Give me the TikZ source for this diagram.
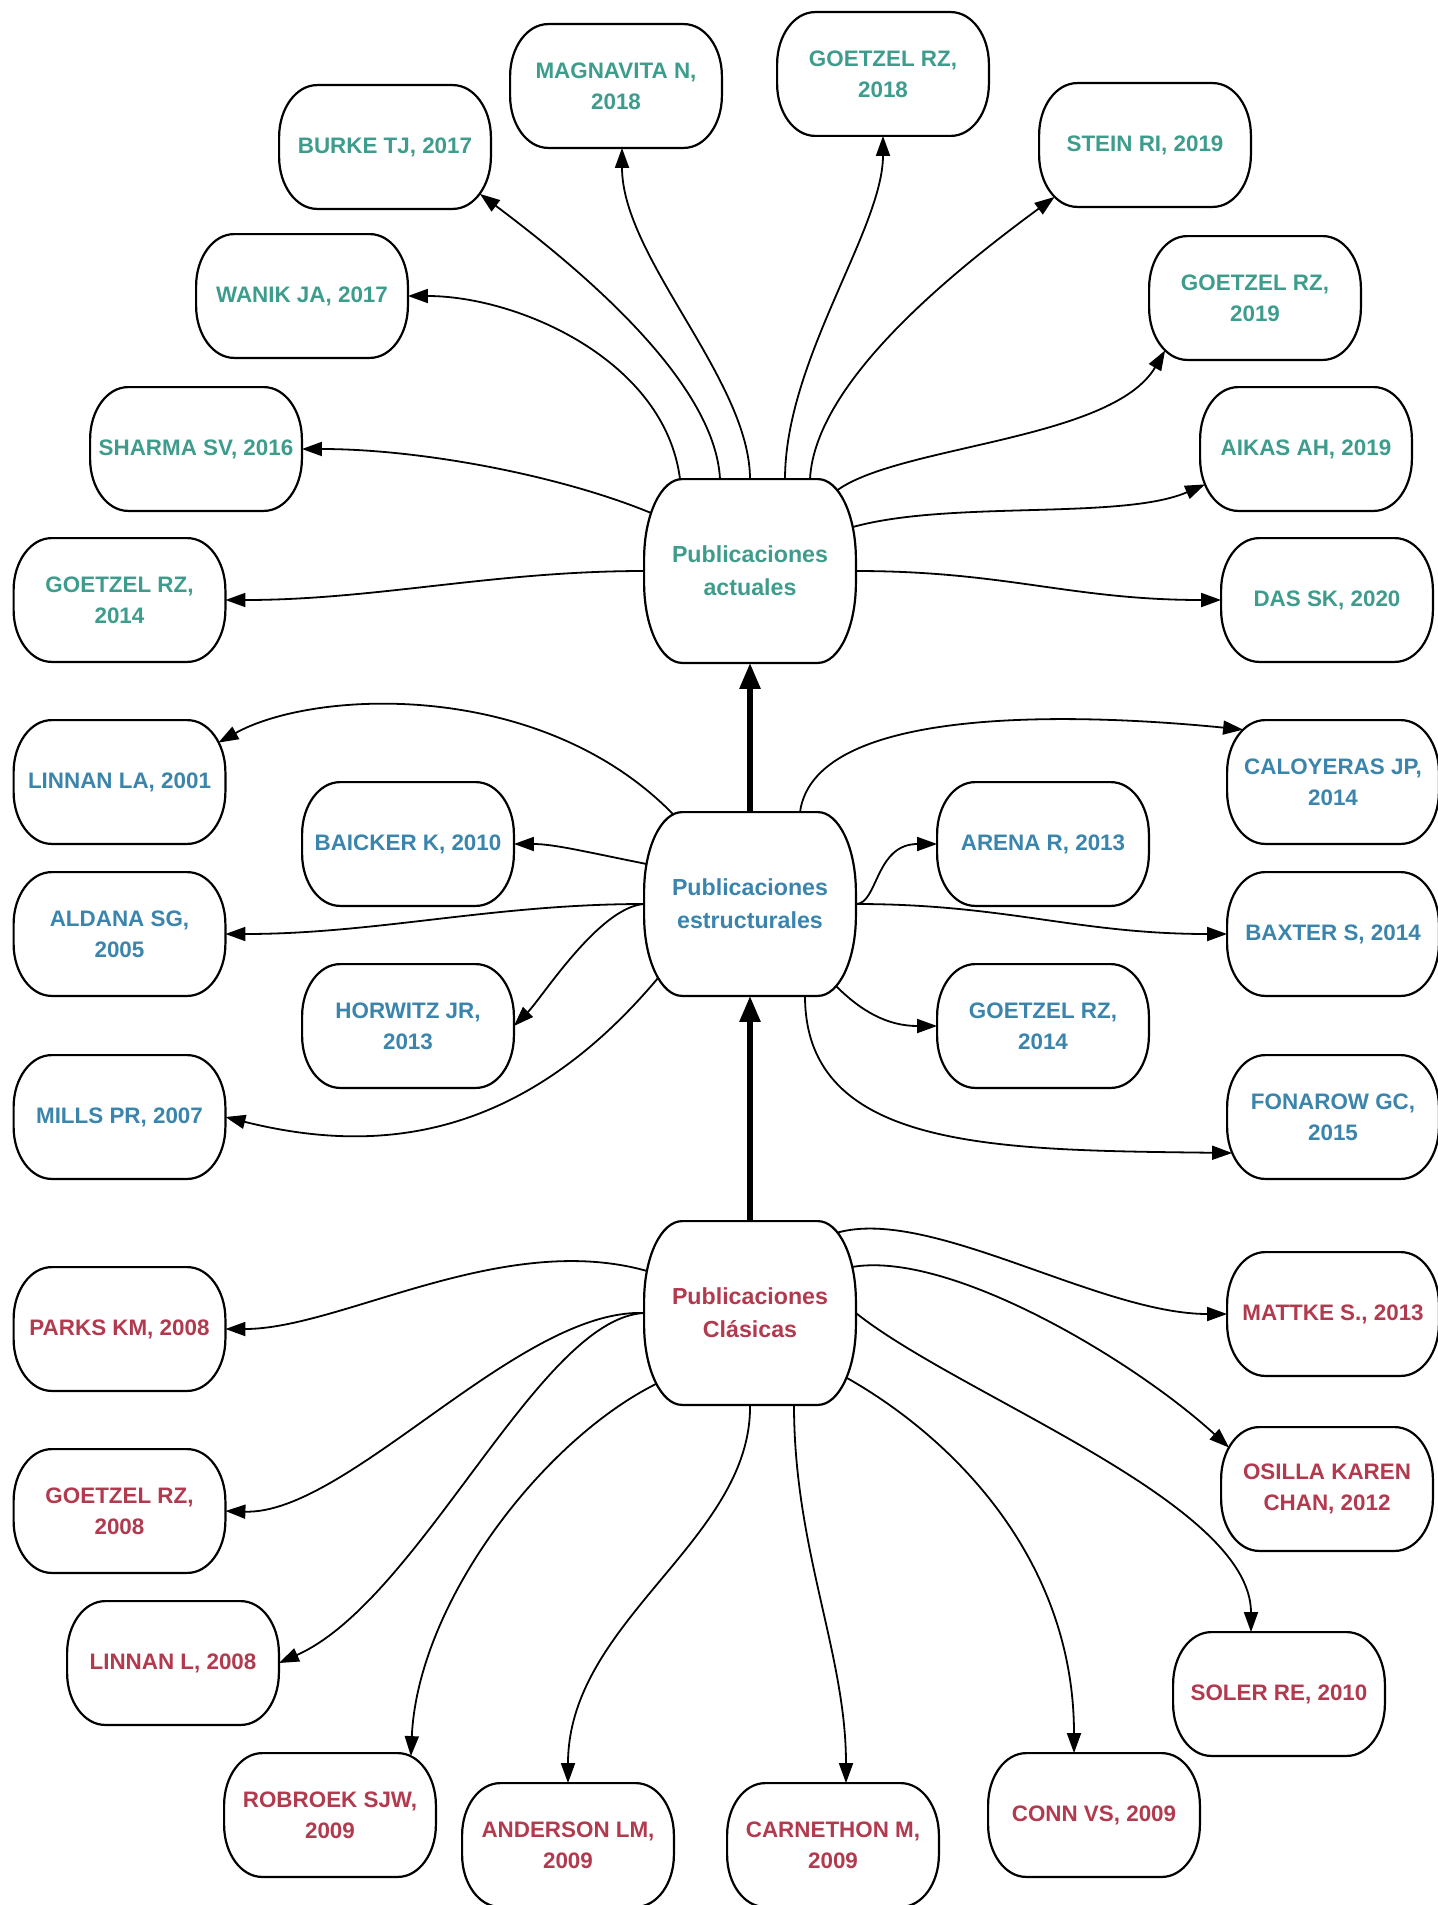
\documentclass[tikz,border=0pt]{standalone}
\usepackage{fontspec}
\setmainfont{Liberation Sans}
\usetikzlibrary{arrows.meta,calc}
\definecolor{actualtxt}{HTML}{3E9C8C}
\definecolor{estructtxt}{HTML}{3B84AC}
\definecolor{clasicatxt}{HTML}{B23A4E}

\begin{document}
\begin{tikzpicture}[
  x=0.5pt,
  y=0.5pt,
  line join=round,
  pub/.style={minimum width=105.5pt,minimum height=61.5pt,inner sep=2pt,align=center,
    font=\fontsize{11.2}{15.5}\selectfont\bfseries},
  hub/.style={pub,minimum height=91.5pt,font=\fontsize{11.6}{16.5}\selectfont\bfseries},
  actual/.style={pub,text=actualtxt},
  estruct/.style={pub,text=estructtxt},
  clasica/.style={pub,text=clasicatxt},
  frame/.style={draw=black,line width=1.1pt},
  link/.style={draw=black,line width=0.9pt,-{Triangle[length=10pt,width=7pt]}},
  stage/.style={draw=black,line width=2.8pt,-{Triangle[length=13pt,width=10pt]}}
]
  \fill[white] (0,0) rectangle (1438,-1905);
  \useasboundingbox (0,0) rectangle (1438,-1905);

  % The three stages, bottom to top.
  \node[hub,text=actualtxt]   (act)  at (750,-571)  {Publicaciones\\actuales};
  \node[hub,text=estructtxt]  (estr) at (750,-904)  {Publicaciones\\estructurales};
  \node[hub,text=clasicatxt]  (clas) at (750,-1313) {Publicaciones\\Clásicas};

  % Current publications.
  \node[actual] (burke)     at (385,-147)   {BURKE TJ, 2017};
  \node[actual] (magnavita) at (616,-86)    {MAGNAVITA N,\\2018};
  \node[actual] (wanik)     at (302,-296)   {WANIK JA, 2017};
  \node[actual] (sharma)    at (196,-449)   {SHARMA SV, 2016};
  \node[actual] (goetzelA)  at (119.5,-600) {GOETZEL RZ,\\2014};
  \node[actual] (goetzelB)  at (883,-74)    {GOETZEL RZ,\\2018};
  \node[actual] (stein)     at (1145,-145)  {STEIN RI, 2019};
  \node[actual] (goetzelC)  at (1255,-298)  {GOETZEL RZ,\\2019};
  \node[actual] (aikas)     at (1306,-449)  {AIKAS AH, 2019};
  \node[actual] (das)       at (1327,-600)  {DAS SK, 2020};

  % Structural publications.
  \node[estruct] (linnanla)  at (119.5,-782)  {LINNAN LA, 2001};
  \node[estruct] (baicker)   at (408,-844)    {BAICKER K, 2010};
  \node[estruct] (aldana)    at (119.5,-934)  {ALDANA SG,\\2005};
  \node[estruct] (horwitz)   at (408,-1026)   {HORWITZ JR,\\2013};
  \node[estruct] (mills)     at (119.5,-1117) {MILLS PR, 2007};
  \node[estruct] (caloyeras) at (1333,-782)   {CALOYERAS JP,\\2014};
  \node[estruct] (arena)     at (1043,-844)   {ARENA R, 2013};
  \node[estruct] (baxter)    at (1333,-934)   {BAXTER S, 2014};
  \node[estruct] (goetzelE)  at (1043,-1026)  {GOETZEL RZ,\\2014};
  \node[estruct] (fonarow)   at (1333,-1117)  {FONAROW GC,\\2015};

  % Classic publications.
  \node[clasica] (parks)     at (119.5,-1329) {PARKS KM, 2008};
  \node[clasica] (goetzelF)  at (119.5,-1511) {GOETZEL RZ,\\2008};
  \node[clasica] (linnanl)   at (173,-1663)   {LINNAN L, 2008};
  \node[clasica] (robroek)   at (330,-1815)   {ROBROEK SJW,\\2009};
  \node[clasica] (anderson)  at (568,-1845)   {ANDERSON LM,\\2009};
  \node[clasica] (carnethon) at (833,-1845)   {CARNETHON M,\\2009};
  \node[clasica] (conn)      at (1094,-1815)  {CONN VS, 2009};
  \node[clasica] (soler)     at (1279,-1694)  {SOLER RE, 2010};
  \node[clasica] (osilla)    at (1327,-1489)  {OSILLA KAREN\\CHAN, 2012};
  \node[clasica] (mattke)    at (1333,-1314)  {MATTKE S., 2013};

  % Box outlines with elliptical corners (hubs are taller).
  \foreach \n/\ry in {act/80,estr/80,clas/80,
      burke/52,magnavita/52,wanik/52,sharma/52,goetzelA/52,goetzelB/52,stein/52,goetzelC/52,aikas/52,das/52,
      linnanla/52,baicker/52,aldana/52,horwitz/52,mills/52,caloyeras/52,arena/52,baxter/52,goetzelE/52,fonarow/52,
      parks/52,goetzelF/52,linnanl/52,robroek/52,anderson/52,carnethon/52,conn/52,soler/52,osilla/52,mattke/52} {
    \draw[frame] ($(\n.north west)+(38,0)$) -- ($(\n.north east)+(-38,0)$)
      arc[start angle=90,end angle=0,x radius=38,y radius=\ry]
      -- ($(\n.south east)+(0,\ry)$)
      arc[start angle=0,end angle=-90,x radius=38,y radius=\ry]
      -- ($(\n.south west)+(38,0)$)
      arc[start angle=270,end angle=180,x radius=38,y radius=\ry]
      -- ($(\n.north west)+(0,-\ry)$)
      arc[start angle=180,end angle=90,x radius=38,y radius=\ry]
      -- cycle;
  }

  % Stage arrows.
  \draw[stage] (estr.north) -- (act.south);
  \draw[stage] (clas.north) -- (estr.south);

  % Fan-out of the current stage.
  \draw[link] (act.west) .. controls +(-150,0) and +(150,0) .. (goetzelA.east);
  \draw[link] ($(act.west)+(7,58)$) .. controls +(-92,38) and +(118,0) .. (sharma.east);
  \draw[link] ($(act.north)+(-70,0)$) .. controls +(-15,119) and +(110,0) .. (wanik.east);
  \draw[link] ($(act.north)+(-30,0)$) .. controls +(-5,99) and +(96,-72) .. ($(burke.south east)+(-11,15)$);
  \draw[link] (act.north) .. controls +(0,99) and +(0,-110) .. ($(magnavita.south)+(6,0)$);
  \draw[link] ($(act.north)+(35,0)$) .. controls +(0,119) and +(0,-93) .. (goetzelB.south);
  \draw[link] ($(act.north)+(60,0)$) .. controls +(5,99) and +(-95,-70) .. ($(stein.south west)+(15.5,10)$);
  \draw[link] ($(act.north east)+(-18.5,-11)$) .. controls +(63,45) and +(-53,-90) .. ($(goetzelC.south west)+(16,9.5)$);
  \draw[link] ($(act.east)+(-3,44)$) .. controls +(97,27) and +(-83,-36) .. ($(aikas.south west)+(5,26.5)$);
  \draw[link] (act.east) .. controls +(150,0) and +(-150,0) .. (das.west);

  % Fan-out of the structural stage.
  \draw[link] ($(estr.north)+(-77,-2)$) .. controls +(-133,136) and +(95,53) .. ($(linnanla.north east)+(-7,-22.5)$);
  \draw[link] ($(estr.west)+(2.5,40)$) .. controls +(-60,12) and +(40,0) .. (baicker.east);
  \draw[link] (estr.west) .. controls +(-150,0) and +(150,0) .. (aldana.east);
  \draw[link] (estr.west) .. controls +(-45,-3) and +(28,28) .. (horwitz.east);
  \draw[link] ($(estr.south west)+(14,18)$) .. controls +(-137,-163) and +(152,-38) .. (mills.east);
  \draw[link] ($(estr.north)+(50,0)$) .. controls +(15,111) and +(-150,15) .. ($(caloyeras.north west)+(16,-9.5)$);
  \draw[link] (estr.east) .. controls +(22,0) and +(-62,0) .. (arena.west);
  \draw[link] (estr.east) .. controls +(150,0) and +(-150,0) .. (baxter.west);
  \draw[link] ($(estr.south east)+(-20,10)$) .. controls +(25,-25) and +(-50,0) .. (goetzelE.west);
  \draw[link] ($(estr.south)+(55,0)$) .. controls +(0,-155) and +(-234,3) .. ($(fonarow.west)+(5,-36)$);

  % Fan-out of the classic stage.
  \draw[link] ($(clas.west)+(3,42)$) .. controls +(-145,41) and +(115,0) .. (parks.east);
  \draw[link] (clas.west) .. controls +(-125,5) and +(122,-4) .. (goetzelF.east);
  \draw[link] (clas.west) .. controls +(-105,-5) and +(141.5,63) .. (linnanl.east);
  \draw[link] ($(clas.south west)+(12,21)$) .. controls +(-114,-57) and +(7,153) .. ($(robroek.north east)+(-25,-3)$);
  \draw[link] (clas.south) .. controls +(2,-135) and +(0,163) .. (anderson.north);
  \draw[link] ($(clas.south)+(44,0)$) .. controls +(0,-145) and +(0,130) .. ($(carnethon.north)+(13,0)$);
  \draw[link] ($(clas.south east)+(-9,27)$) .. controls +(111,-63) and +(0,190) .. ($(conn.north)+(-20,0)$);
  \draw[link] (clas.east) .. controls +(104,-83) and +(0,130) .. ($(soler.north)+(-28,0)$);
  \draw[link] ($(clas.east)+(-4,46)$) .. controls +(97,17) and +(-96,88) .. ($(osilla.north west)+(8,-20.5)$);
  \draw[link] ($(clas.north east)+(-18.5,-11.5)$) .. controls +(93,26) and +(-128,0) .. (mattke.west);
\end{tikzpicture}
\end{document}
